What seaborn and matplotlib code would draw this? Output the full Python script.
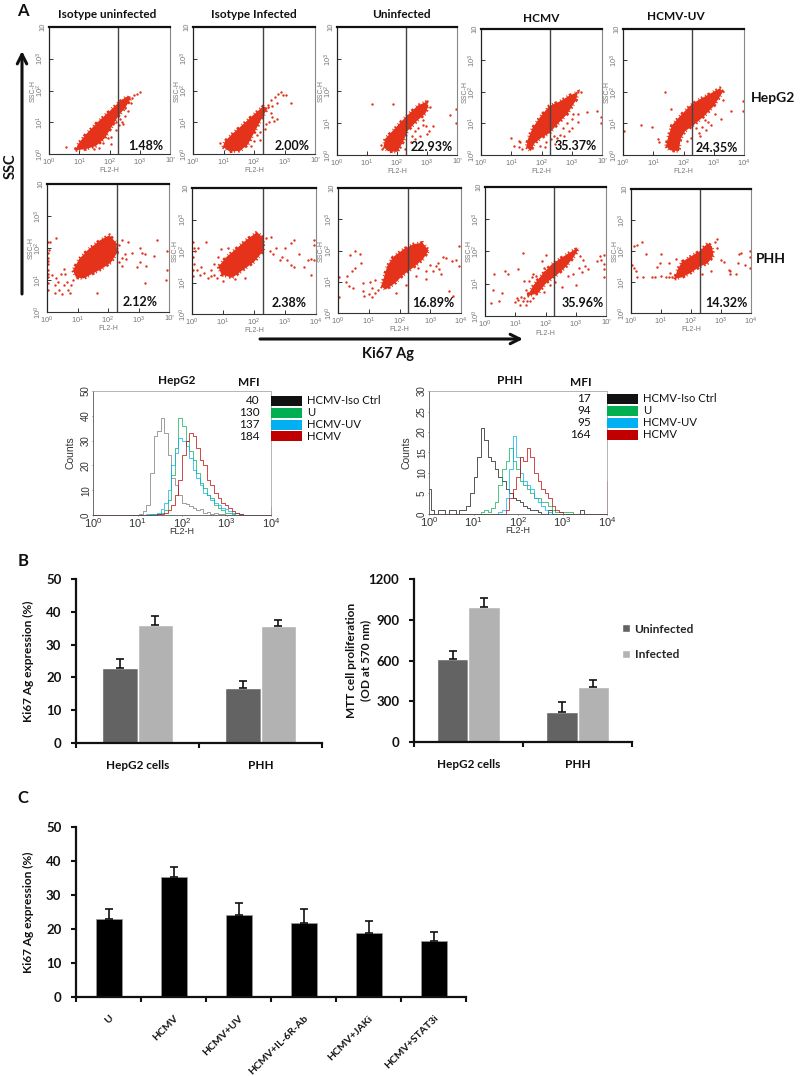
import numpy as np
import pandas as pd
import matplotlib
matplotlib.use("Agg")
import matplotlib.pyplot as plt
from matplotlib.patches import Rectangle
import seaborn as sns

W, H = 800, 1076

# flow panels: dense gate outlines and the single events around them, as (log10 FL2-H, log10 SSC-H)
hepg2_iso_u_core = [(0.88,0.12),(1.2,0.15),(1.55,0.25),(1.85,0.5),(2.1,0.9),(2.3,1.2),(2.55,1.5),(2.7,1.75),(2.55,1.8),(2.3,1.62),(2.0,1.35),(1.6,1.0),(1.2,0.6),(0.95,0.3)]
hepg2_iso_u_events = [(0.55,0.22),(2.4,1.7),(2.5,1.45),(2.35,1.1),(2.42,1.0),(2.5,1.2),(2.45,0.95),(2.6,1.35),(2.7,1.6),(2.8,1.85),(2.9,1.9),(3.0,1.95),(2.75,1.75),(2.6,1.65),(2.65,1.8),(2.1,0.95),(2.2,0.75),(2.05,0.55),(1.95,0.5),(2.05,0.3),(1.8,0.35),(1.65,0.2),(1.5,0.15),(0.85,0.2),(2.2,1.0),(2.3,0.9)]
hepg2_iso_i_core = [(0.98,0.22),(1.2,0.08),(1.55,0.1),(1.8,0.3),(2.05,0.75),(2.3,1.2),(2.45,1.45),(2.3,1.5),(2.0,1.25),(1.6,0.9),(1.25,0.6),(1.05,0.4)]
hepg2_iso_i_events = [(2.45,1.55),(2.55,1.7),(2.6,1.5),(2.7,1.8),(2.75,1.6),(2.8,1.9),(2.9,1.95),(2.95,1.85),(3.05,1.85),(3.2,1.6),(2.55,1.3),(2.6,1.15),(2.65,1.05),(2.75,1.1),(2.5,1.0),(2.35,0.8),(2.2,0.7),(2.2,0.45),(2.0,0.4),(2.1,0.6),(1.75,0.45),(1.9,0.25),(0.9,0.35),(2.4,0.95)]
hepg2_u_core = [(1.55,0.25),(1.7,0.12),(2.0,0.1),(2.2,0.4),(2.35,0.75),(2.65,1.05),(2.95,1.3),(3.05,1.55),(2.95,1.65),(2.7,1.55),(2.3,1.2),(2.0,0.9),(1.6,0.5)]
hepg2_u_events = [(1.18,1.6),(1.85,1.6),(3.75,1.25),(3.98,1.0),(3.98,1.45),(2.95,0.9),(3.2,0.9),(3.05,0.75),(2.85,0.95),(2.7,0.85),(2.75,0.6),(2.5,0.6),(2.45,0.4),(2.6,0.5),(3.0,0.65),(2.6,0.75),(2.85,1.1),(2.4,0.95),(1.5,0.2),(1.45,0.3),(2.1,0.25),(2.25,0.2),(3.0,1.7),(3.1,1.5)]
hepg2_hcmv_core = [(1.5,0.25),(1.65,0.12),(1.75,0.35),(2.0,0.55),(2.27,0.7),(2.55,1.0),(2.85,1.3),(3.15,1.75),(3.2,2.0),(2.95,1.9),(2.6,1.7),(2.25,1.55),(1.95,1.2),(1.7,0.85),(1.55,0.5)]
hepg2_hcmv_events = [(1.0,0.55),(1.1,0.3),(1.25,0.25),(1.35,0.2),(1.3,0.4),(1.25,0.45),(3.2,1.3),(3.5,1.35),(3.85,1.4),(3.98,1.2),(3.98,1.0),(3.2,1.05),(3.0,1.15),(3.0,0.85),(2.85,1.0),(2.7,0.85),(2.6,0.65),(2.5,0.55),(2.4,0.6),(2.3,0.5),(2.75,0.6),(2.9,0.75),(3.05,1.3),(3.3,2.0),(2.45,0.35),(2.15,0.4),(1.95,0.3),(2.1,0.25)]
hepg2_uv_core = [(1.42,0.28),(1.55,0.15),(1.85,0.12),(1.9,0.5),(2.05,0.75),(2.4,1.0),(2.7,1.25),(3.0,1.55),(3.3,2.0),(3.2,2.12),(2.85,1.93),(2.5,1.75),(2.2,1.55),(1.9,1.25),(1.62,0.95),(1.5,0.6)]
hepg2_uv_events = [(1.4,2.0),(0.6,0.95),(0.95,0.9),(0.02,0.75),(1.2,0.4),(1.15,0.5),(3.98,1.7),(3.98,1.4),(3.57,1.4),(3.3,1.75),(3.25,1.15),(2.9,0.95),(2.75,0.8),(2.6,0.9),(2.5,0.7),(2.4,0.85),(2.7,1.1),(2.25,0.55),(2.1,0.45),(1.6,1.45),(2.3,1.0),(2.55,0.6),(2.8,1.05),(3.05,1.3)]

phh_iso_u_core = [(0.85,1.3),(0.95,1.08),(1.2,1.05),(1.5,1.2),(1.8,1.35),(2.1,1.55),(2.3,1.85),(2.28,2.15),(2.05,2.4),(1.75,2.25),(1.35,1.95),(1.05,1.65)]
phh_iso_u_events = [(0.02,2.2),(0.05,1.95),(0.02,1.7),(0.03,1.5),(0.02,1.3),(0.04,1.1),(0.02,0.9),(0.03,0.7),(0.02,1.85),(0.02,1.6),(0.03,1.2),(0.1,2.2),(0.3,2.3),(0.15,1.15),(0.25,0.85),(0.35,0.95),(0.4,0.7),(0.5,0.55),(0.55,0.85),(0.65,0.95),(0.7,0.7),(0.75,0.6),(0.8,0.85),(0.45,1.2),(0.3,1.05),(0.55,1.35),(0.6,1.2),(0.85,1.0),(0.25,0.6),(1.65,0.6),(2.35,2.1),(2.45,2.25),(2.55,1.8),(2.6,1.65),(2.45,1.7),(2.35,1.55),(2.45,1.45),(2.8,1.85),(3.05,2.0),(3.1,1.85),(3.2,1.8),(3.05,1.55),(3.25,1.45),(3.5,1.75),(3.6,2.25),(3.95,1.9),(3.95,1.3),(3.9,1.0),(3.2,0.9),(2.95,1.4),(2.65,2.2)]
phh_iso_i_core = [(0.85,1.5),(0.95,1.25),(1.3,1.15),(1.65,1.4),(2.0,1.65),(2.3,2.0),(2.3,2.4),(2.1,2.6),(1.75,2.35),(1.4,2.05),(1.1,1.8)]
phh_iso_i_events = [(0.02,2.3),(0.05,2.1),(0.02,1.8),(0.05,1.6),(0.02,1.4),(0.03,1.2),(0.1,2.0),(0.2,2.1),(0.45,2.3),(0.3,1.5),(0.15,1.4),(0.25,1.25),(0.4,1.3),(0.5,1.15),(0.6,1.2),(0.7,1.25),(0.8,1.15),(0.6,1.4),(0.7,1.6),(0.85,1.8),(0.95,2.05),(1.15,2.1),(1.0,1.05),(1.4,1.1),(1.7,1.15),(2.4,2.4),(2.55,2.45),(2.5,2.0),(2.6,1.9),(2.7,2.1),(2.9,1.8),(3.0,2.1),(3.2,2.25),(3.3,2.35),(3.05,1.7),(3.2,1.55),(3.3,1.5),(3.45,1.9),(3.6,1.5),(3.75,1.7),(3.85,1.25),(3.95,2.35),(3.95,2.2),(3.95,1.7),(3.85,1.75),(2.85,1.7)]
phh_u_core = [(1.4,0.85),(1.55,0.75),(1.85,0.95),(2.1,1.2),(2.35,1.38),(2.75,1.7),(2.95,2.0),(2.75,2.25),(2.45,2.2),(2.15,2.05),(1.8,1.8),(1.6,1.5),(1.5,1.15)]
phh_u_events = [(0.02,1.15),(0.25,1.0),(0.3,1.2),(0.35,0.85),(0.5,0.8),(0.02,0.5),(0.4,1.85),(0.55,2.0),(0.7,1.9),(0.55,1.45),(0.45,1.35),(0.75,1.6),(0.8,0.95),(0.8,0.7),(0.85,0.55),(1.0,0.6),(1.1,0.5),(1.1,0.8),(1.2,0.65),(1.3,0.75),(1.05,1.0),(1.2,1.05),(3.0,1.55),(3.1,1.35),(3.2,1.5),(3.25,1.6),(3.35,1.25),(3.3,1.4),(3.4,1.8),(3.5,1.75),(3.7,1.65),(3.85,1.7),(3.95,2.15),(3.95,1.5),(3.6,0.7),(3.75,0.55),(2.55,1.2),(2.85,1.1),(2.6,1.45),(2.85,1.35),(1.9,0.65),(2.2,0.9)]
phh_hcmv_core = [(1.4,0.62),(1.75,0.7),(2.05,1.05),(2.35,1.25),(2.7,1.55),(2.95,1.85),(3.1,2.1),(2.95,2.05),(2.6,1.85),(2.2,1.6),(1.9,1.3),(1.6,0.95)]
phh_hcmv_events = [(0.2,0.4),(0.45,0.45),(0.25,0.8),(0.3,1.3),(0.55,0.7),(0.65,1.4),(0.75,1.3),(1.1,1.45),(1.25,1.95),(1.0,0.42),(1.1,0.5),(1.15,0.35),(1.25,0.45),(1.35,0.35),(1.3,0.55),(1.4,0.45),(1.2,0.6),(1.05,0.55),(1.5,0.45),(1.6,0.55),(1.35,0.8),(1.45,1.1),(1.55,1.2),(1.3,1.1),(1.6,1.3),(1.9,1.7),(1.95,1.5),(2.0,1.9),(1.95,1.35),(1.7,1.25),(1.95,0.75),(2.15,0.95),(2.3,1.05),(2.55,0.9),(3.0,0.95),(2.75,1.25),(2.9,1.3),(3.1,1.5),(3.2,1.35),(3.3,1.55),(3.4,1.45),(3.25,1.75),(3.15,1.85),(3.7,1.7),(3.85,1.75),(3.95,1.6),(3.95,1.9),(3.95,1.2),(3.8,1.85),(3.95,1.45)]
phh_uv_core = [(1.45,1.1),(1.7,1.15),(2.0,1.3),(2.3,1.5),(2.55,1.6),(2.75,1.85),(2.7,2.15),(2.55,2.25),(2.3,2.0),(1.95,1.8),(1.7,1.65),(1.55,1.4)]
phh_uv_events = [(0.02,1.55),(0.1,1.45),(0.15,1.35),(0.2,1.15),(0.1,2.15),(0.2,2.2),(0.35,2.3),(0.5,1.9),(0.4,1.15),(0.7,1.15),(0.8,1.15),(0.85,1.5),(0.95,1.6),(1.0,1.9),(1.0,1.2),(1.15,1.15),(1.25,1.15),(1.35,1.15),(1.3,1.3),(1.25,1.6),(1.5,1.75),(2.85,2.4),(2.8,2.3),(2.85,2.1),(3.0,1.7),(3.1,1.65),(3.3,1.35),(3.25,1.4),(3.3,1.25),(3.5,1.25),(3.55,1.6),(3.6,1.9),(3.65,1.95),(3.8,1.55),(3.95,2.0),(3.95,1.8),(3.95,1.45),(2.65,1.35),(2.35,1.25)]

column_titles = ["Isotype uninfected", "Isotype Infected", "Uninfected", "HCMV", "HCMV-UV"]
hepg2_pct = ["1.48%", "2.00%", "22.93%", "35.37%", "24.35%"]
phh_pct = ["2.12%", "2.38%", "16.89%", "35.96%", "14.32%"]
gate_log = 2.29

# histograms, counts per log10 FL2-H bin
hepg2_bins = [0.0,0.9,1.00,1.08,1.16,1.24,1.32,1.40,1.48,1.56,1.64,1.72,1.80,1.88,1.96,2.04,2.12,2.20,2.28,2.36,2.44,2.52,2.60,2.68,2.76,2.84,2.92,3.00,3.08,3.16,3.24,3.32,3.40,3.9,3.99,4.0]
hepg2_iso = [0,0,0,0.5,1.5,4,17,32,34,39,33,24,15,12,8,5,4.5,3.5,3,2,2.5,1,1.2,0.6,0.8,0.3,0.5,0,0,0,0,0,0,0,0,0]
hepg2_u = [0,0,0,0,0,0,0.3,0.5,0.5,1,2,6,16,27,39,36,30,26,22,17,13,11,8,7,4,3,2,1,0.7,0.3,0,0,0,0,0,0]
hepg2_uv = [0,0,0,0,0,0.3,0.3,0.5,1,2.5,5,10,20,25,31,30,28,23,18,15,12,9,8,6,5,4,3,2.5,1.5,1,0.7,0.4,0.2,0,0,0]
hepg2_hcmv = [0,0,0,0,0,0,0,0,0.3,0.5,1,2,4,8,14,24,30,33,32,27,22,20,14,12,9,7,5,4,3,1.5,1,0.4,0,0,0,3.4]

phh_bins = [0.00,0.08,0.16,0.24,0.32,0.40,0.48,0.56,0.64,0.72,0.80,0.88,0.96,1.04,1.12,1.20,1.28,1.36,1.44,1.52,1.60,1.68,1.76,1.84,1.92,2.00,2.08,2.16,2.24,2.32,2.40,2.48,2.56,2.64,2.72,2.80,2.88,2.96,3.04,3.12,3.20,3.28,3.36,3.44,3.52,3.60,3.99,4.0]
phh_iso = [6,1,0,1,1,0,1,1,0,1,1,2,5,9,14,21,18,14,13,11,9,8,6,5,4,3.5,3,2,1.5,1,1,0.5,0,0,1,0,0,0,0,0,0,0,0,1,0,0,0,0]
phh_u = [0,0,0,0,0,0,0,0,0,0,0,0,0,0,0,0.5,1,0.5,1.5,3,7,11,13,16,13,11,8,7,6,5,4,4,3,3,2,1,0.5,0.5,0.5,0.5,0.5,0,0,0,0,0,0,0]
phh_uv = [0,0,0,0,0,0,0,0,0,0,0,0,0,0,0,0,0,0,0,0,0.5,1,4,11,19,14,10,8,7,6,4,3,2,1,0.5,0,0,0,0,0,0,0,0,0,0,0,0,1]
phh_hcmv = [0,0,0,0,0,0,0,0,0,0,0,0,0,0,0,0,0,0,0,0,0,0,1,4,6,9,14,13,16,14,10,8,6,5,4,2,1,0.5,0,0,0,0,0,0,0,0,0,8]

hist_names = ["HCMV-Iso Ctrl", "U", "HCMV-UV", "HCMV"]
hist_colors = ["#111111", "#00b050", "#00b0f0", "#c00000"]
hepg2_mfi = ["40", "130", "137", "184"]
phh_mfi = ["17", "94", "95", "164"]

# bar charts
cell_types = ["HepG2 cells", "PHH"]
b_groups = ["Uninfected", "Infected"]
ki67_uninfected = [22.8, 16.8]
ki67_infected = [36.1, 35.8]
ki67_uninfected_err = [2.9, 2.2]
ki67_infected_err = [2.7, 1.6]
mtt_uninfected = [612, 218]
mtt_infected = [995, 408]
mtt_uninfected_err = [55, 80]
mtt_infected_err = [65, 50]

treatments = ["U", "HCMV", "HCMV+UV", "HCMV+IL-6R-Ab", "HCMV+JAKi", "HCMV+STAT3i"]
ki67_treated = [22.8, 35.2, 24.2, 21.9, 18.9, 16.6]
ki67_treated_err = [3.2, 3.0, 3.4, 4.1, 3.4, 2.6]

sns.set_theme(style="white")
plt.rcParams["font.family"] = ["Lato", "DejaVu Sans"]

fig = plt.figure(figsize=(W / 100, H / 100), dpi=100)


def px_axes(x0, y0, x1, y1):
    return fig.add_axes([x0 / W, 1 - y1 / H, (x1 - x0) / W, (y1 - y0) / H])


FLOW_FONT = "Liberation Sans"
POWERS = [r"$\mathregular{10^{%d}}$" % i for i in range(5)]
RED = "#e5321a"


def flow_panel(box, core, events, clipped):
    ax = px_axes(*box)
    core = np.array(core)
    events = np.array(events)
    ax.set_xscale("log")
    ax.set_yscale("log")
    # broken edge gives the outline of the dense gate a grainy look
    ax.fill(10 ** core[:, 0], 10 ** core[:, 1], fc=RED, ec=RED, lw=2.4, ls=(0, (0.5, 0.6, 0.25, 1.1, 0.8, 0.5, 0.3, 0.9)))
    sns.scatterplot(x=10 ** events[:, 0], y=10 ** events[:, 1], color=RED, s=3, linewidth=0, ax=ax, clip_on=False)
    ax.axvline(10 ** gate_log, color="#444444", lw=1.0)
    ax.set_xlim(1, 1e4)
    ax.set_ylim(1, 1e4)
    ax.set_xticks([1, 10, 100, 1000, 10000])
    ax.set_yticks([1, 10, 100, 1000, 10000])
    xlabels = POWERS[:4] + ["10'" if clipped else POWERS[4]]
    ax.set_xticklabels(xlabels, fontsize=5.5, color="#777777", family=FLOW_FONT)
    ax.set_yticklabels(POWERS[:4] + ["10"], fontsize=5.5, color="#777777", family=FLOW_FONT, rotation=90, va="center")
    ax.tick_params(which="major", direction="in", length=3, width=0.7, color="#333333", pad=2, bottom=True, left=True)
    ax.tick_params(which="minor", direction="in", length=1.5, width=0.5, color="#333333", bottom=True, left=True)
    ax.set_xlabel("FL2-H", fontsize=5, color="#777777", family=FLOW_FONT)
    ax.set_ylabel("SSC-H", fontsize=5, color="#777777", family=FLOW_FONT)
    ax.xaxis.set_label_coords(0.5, -0.105)
    ax.yaxis.set_label_coords(-0.105, 0.5)
    ax.spines["top"].set(color="#111111", linewidth=1.6)
    ax.spines["left"].set(color="#222222", linewidth=0.9)
    ax.spines["bottom"].set(color="#333333", linewidth=0.8)
    ax.spines["right"].set(color="#888888", linewidth=0.8)
    return ax


hepg2_boxes = [(49, 27, 170, 154), (193, 27, 315, 154), (337, 27, 457, 155), (481, 29, 602, 155), (623, 29, 744, 155)]
phh_boxes = [(47, 184, 169, 312), (192, 188, 316, 314), (338, 188, 461, 313), (485, 187, 606, 316), (631, 189, 751, 313)]
hepg2_clip = [True, True, True, True, False]
phh_clip = [True, False, False, True, False]
hepg2_data = [(hepg2_iso_u_core, hepg2_iso_u_events), (hepg2_iso_i_core, hepg2_iso_i_events), (hepg2_u_core, hepg2_u_events), (hepg2_hcmv_core, hepg2_hcmv_events), (hepg2_uv_core, hepg2_uv_events)]
phh_data = [(phh_iso_u_core, phh_iso_u_events), (phh_iso_i_core, phh_iso_i_events), (phh_u_core, phh_u_events), (phh_hcmv_core, phh_hcmv_events), (phh_uv_core, phh_uv_events)]

for box, (core, events), clip in zip(hepg2_boxes, hepg2_data, hepg2_clip):
    flow_panel(box, core, events, clip)
for box, (core, events), clip in zip(phh_boxes, phh_data, phh_clip):
    flow_panel(box, core, events, clip)


def hist_panel(box, bins, series, colors, ymax, yticks):
    ax = px_axes(*box)
    for counts, color in zip(series, colors):
        sns.lineplot(x=bins, y=counts, color=color, lw=0.5, estimator=None, drawstyle="steps-mid", ax=ax, clip_on=False)
    ax.set_xlim(0, 4)
    ax.set_ylim(0, ymax)
    ax.set_xticks([0, 1, 2, 3, 4])
    ax.set_xticklabels(POWERS, fontsize=8, color="#333333", family=FLOW_FONT)
    ax.set_yticks(yticks)
    ax.set_yticklabels(yticks, fontsize=7, color="#333333", family=FLOW_FONT, rotation=90, va="center")
    ax.tick_params(axis="x", direction="out", length=1, width=0.5, color="#555555", pad=0, bottom=True)
    ax.tick_params(axis="y", direction="out", length=1, width=0.5, color="#555555", pad=0.5, left=True)
    ax.set_xlabel("FL2-H", fontsize=6.5, color="#333333", family=FLOW_FONT)
    ax.set_ylabel("Counts", fontsize=7.5, color="#333333", family=FLOW_FONT)
    ax.xaxis.set_label_coords(0.5, -0.1)
    ax.yaxis.set_label_coords(-0.10, 0.5)
    for side in ["left", "bottom"]:
        ax.spines[side].set(color="#555555", linewidth=0.6)
    for side in ["top", "right"]:
        ax.spines[side].set(color="#aaaaaa", linewidth=0.6)


# the isotype trace reads grey in the HepG2 overlay, black in the PHH one
hist_panel((93, 391, 271, 515), hepg2_bins, [hepg2_iso, hepg2_u, hepg2_uv, hepg2_hcmv], ["#777777"] + hist_colors[1:], 50, [0, 10, 20, 30, 40, 50])
hist_panel((429, 391, 607, 514), phh_bins, [phh_iso, phh_u, phh_uv, phh_hcmv], hist_colors, 30, [0, 5, 10, 15, 20, 25, 30])

BAR_COLORS = ["#636363", "#b2b2b2"]


def bar_style(ax, labels, yticks, ymax):
    n = len(labels)
    ax.set_ylim(0, ymax)
    ax.set_xlim(-0.5, n - 0.5)
    ax.set_xticks([i - 0.5 for i in range(n + 1)])
    ax.set_xticklabels([""] * (n + 1))
    ax.set_xticks(range(n), minor=True)
    ax.set_yticks(yticks)
    ax.set_yticklabels(yticks, fontsize=9.5, fontweight="bold", color="#111111")
    ax.tick_params(axis="both", which="major", direction="out", length=3.5, width=1.5, color="#111111", bottom=True, left=True)
    ax.tick_params(axis="y", which="major", pad=7)
    ax.tick_params(axis="x", which="minor", length=0)
    ax.set_xlabel("")
    sns.despine(ax=ax)
    for side in ["left", "bottom"]:
        ax.spines[side].set(color="#111111", linewidth=1.6)


def add_errs(ax, containers, errs):
    for container, err in zip(containers, errs):
        for bar, e in zip(container, err):
            ax.errorbar(bar.get_x() + bar.get_width() / 2, bar.get_height(), yerr=[[0], [e]], color="#111111", lw=1.2, capsize=2.6, capthick=1.2)


def grouped_bars(box, first, second, first_err, second_err, yticks, ymax, legend):
    ax = px_axes(*box)
    df = pd.DataFrame({
        "cell": cell_types * 2,
        "group": [b_groups[0]] * 2 + [b_groups[1]] * 2,
        "value": first + second,
    })
    sns.barplot(data=df, x="cell", y="value", hue="group", palette=BAR_COLORS, width=0.57, gap=0, saturation=1, errorbar=None, legend=legend, ax=ax)
    add_errs(ax, ax.containers, [first_err, second_err])
    bar_style(ax, cell_types, yticks, ymax)
    ax.set_xticklabels(cell_types, minor=True, fontsize=8.5, fontweight="bold", color="#111111")
    ax.tick_params(axis="x", which="minor", pad=12)
    return ax


ax_b1 = grouped_bars((76, 579, 322, 743), ki67_uninfected, ki67_infected, ki67_uninfected_err, ki67_infected_err, [0, 10, 20, 30, 40, 50], 50, False)
ax_b1.set_ylabel("Ki67 Ag expression (%)", fontsize=8.6, fontweight="bold", color="#111111")
ax_b1.yaxis.set_label_coords(-0.17, 0.5)

ax_b2 = grouped_bars((414, 579, 632, 742), mtt_uninfected, mtt_infected, mtt_uninfected_err, mtt_infected_err, [0, 300, 600, 900, 1200], 1200, True)
ax_b2.set_ylabel("MTT cell proliferation\n(OD at 570 nm)", fontsize=8.6, fontweight="bold", color="#111111", linespacing=1.3)
ax_b2.yaxis.set_label_coords(-0.197, 0.5)

ax_c = px_axes(76, 827, 466, 997)
sns.barplot(x=treatments, y=ki67_treated, color="#000000", saturation=1, width=0.4, errorbar=None, edgecolor="#999999", linewidth=0.5, ax=ax_c)
add_errs(ax_c, ax_c.containers, [ki67_treated_err])
bar_style(ax_c, treatments, [0, 10, 20, 30, 40, 50], 50)
ax_c.set_xticklabels(treatments, minor=True, fontsize=7.5, fontweight="bold", color="#111111", rotation=45, ha="right", rotation_mode="anchor")
ax_c.tick_params(axis="x", which="minor", pad=12)
ax_c.set_ylabel("Ki67 Ag expression (%)", fontsize=8.6, fontweight="bold", color="#111111")
ax_c.yaxis.set_label_coords(-0.107, 0.5)

# overlay in image pixels for the free text, swatches and arrows
over = fig.add_axes([0, 0, 1, 1], zorder=10)
over.set_xlim(0, W)
over.set_ylim(H, 0)
over.axis("off")
over.patch.set_alpha(0)


def label(x, y, s, size=8.5, weight="bold", ha="center", rot=0):
    over.text(x, y, s, fontsize=size, fontweight=weight, ha=ha, va="center", rotation=rot, color="#111111")


sns.move_legend(ax_b2, "center left", bbox_to_anchor=(622, 642), bbox_transform=over.transData, frameon=False, title=None,
                prop={"size": 8.6, "weight": "bold"}, labelspacing=1.25, handlelength=0.65, handleheight=0.65, handletextpad=0.4,
                borderpad=0, borderaxespad=0)

for s, x, y in zip(column_titles, [107, 254, 401, 541, 676], [15, 14, 14, 18, 17]):
    label(x, y, s, size=8.5)
for s, x, y in zip(hepg2_pct, [163, 310, 453, 597, 738], [146, 146, 147, 146, 148]):
    label(x, y, s, size=9, ha="right")
for s, x, y in zip(phh_pct, [158, 307, 454, 604, 748], [302, 303, 303, 303, 303]):
    label(x, y, s, size=9, ha="right")

label(23, 11, "A", size=12)
label(23, 561, "B", size=12)
label(23, 798, "C", size=12)
label(773, 98, "HepG2", size=10)
label(771, 259, "PHH", size=10)
label(11, 166, "SSC", size=10.5, rot=90)
label(388, 354, "Ki67 Ag", size=10.5)

arrow = dict(arrowstyle="->", lw=2.2, color="#111111", mutation_scale=17, shrinkA=0, shrinkB=0)
over.annotate("", xy=(22, 51), xytext=(22, 294), arrowprops=arrow)
over.annotate("", xy=(523, 339), xytext=(260, 339), arrowprops=arrow)

label(177, 380, "HepG2", size=8.5)
label(249, 382, "MFI", size=8.5)
label(510, 380, "PHH", size=8.5)
label(581, 382, "MFI", size=8.5)

for i, (name, color) in enumerate(zip(hist_names, hist_colors)):
    y_a = [401, 413, 425, 436][i]
    y_b = [399, 411, 423, 435][i]
    over.add_patch(Rectangle((271, y_a - 5), 31, 10, color=color, lw=0))
    over.add_patch(Rectangle((607, y_b - 5), 31, 10, color=color, lw=0))
    label(307, y_a, name, size=8.1, weight="normal", ha="left")
    label(643, y_b, name, size=8.1, weight="normal", ha="left")
    label(260, y_a, hepg2_mfi[i], size=8.5, weight="normal", ha="right")
    label(591, y_b, phh_mfi[i], size=8.5, weight="normal", ha="right")

fig.savefig("out.png", dpi=100)
